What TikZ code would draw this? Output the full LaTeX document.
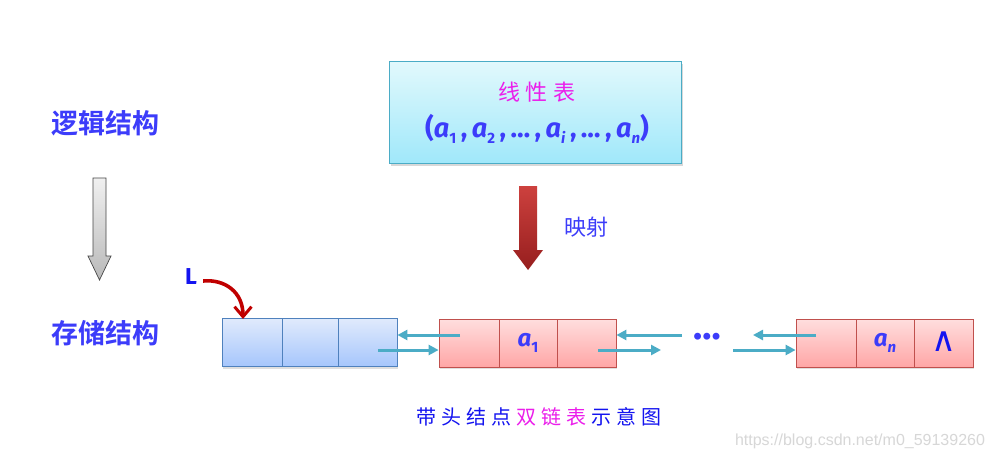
\documentclass[tikz,border=0pt]{standalone}
\usepackage{fontspec}
\setmainfont{Fira Sans}
\newfontfamily\cjk{Noto Sans CJK SC}[BoldFont={Noto Sans CJK SC Bold}]
\newfontfamily\wmfont{Liberation Sans}
\newfontfamily\dejavu{DejaVu Sans}
\usetikzlibrary{arrows.meta,shadows,calc}
\definecolor{txtblue}{RGB}{60,60,250}
\definecolor{pureblue}{RGB}{20,20,240}
\definecolor{mag}{RGB}{235,30,235}
\definecolor{cyanline}{RGB}{75,172,198}
\definecolor{boxedge}{RGB}{75,172,198}
\definecolor{bluecell}{RGB}{79,129,189}
\definecolor{redcell}{RGB}{192,80,77}
\definecolor{darkred}{RGB}{192,0,0}
\newcommand\av[2]{\textit{a}\raisebox{-0.45ex}{\fontsize{15}{15}\selectfont #1}}
\tikzset{
  lbl/.style={inner sep=0pt, text=txtblue},
  cellb/.style={draw=bluecell, line width=0.8pt, top color={rgb,255:red,224;green,234;blue,252}, bottom color={rgb,255:red,166;green,198;blue,252}, minimum height=48pt, inner sep=0pt, drop shadow={opacity=0.25,shadow xshift=1pt,shadow yshift=-2pt}},
  cellr/.style={draw=redcell, line width=0.8pt, top color={rgb,255:red,255;green,222;blue,222}, bottom color={rgb,255:red,255;green,166;blue,166}, minimum height=48pt, inner sep=0pt, drop shadow={opacity=0.25,shadow xshift=1pt,shadow yshift=-2pt}},
  link/.style={draw=cyanline, line width=3pt, -{Triangle[length=10pt,width=10pt]}},
}
\begin{document}
\begin{tikzpicture}[x=1pt,y=-1pt]
\useasboundingbox[fill=white] (0,0) rectangle (992,460);

% left labels
\node[lbl, font=\cjk\bfseries\fontsize{27}{27}\selectfont] (logic) at (105,123) {逻辑结构};
\node[lbl, font=\cjk\bfseries\fontsize{27}{27}\selectfont] (store) at (105,333) {存储结构};
\shade[top color={rgb,255:red,240;green,240;blue,240}, bottom color={rgb,255:red,185;green,185;blue,185}, draw={rgb,255:red,70;green,70;blue,70}, line width=0.7pt]
  (93,178) -- (106,178) -- (106,256) -- (111,256) -- (99.5,280) -- (88,256) -- (93,256) -- cycle;

% linear list box
\node[draw=boxedge, line width=0.8pt, top color={rgb,255:red,226;green,249;blue,252}, bottom color={rgb,255:red,160;green,232;blue,250}, minimum width=292pt, minimum height=102pt, drop shadow={opacity=0.3,shadow xshift=1.5pt,shadow yshift=-2.5pt}] (lin) at (535,112) {};
\node[inner sep=0pt, text=mag, font=\cjk\fontsize{22}{22}\selectfont] (title) at (537,92) {线\hspace{6pt}性\hspace{6pt}表};
\node[inner sep=0pt, text=txtblue, font=\bfseries\fontsize{27}{27}\selectfont] (seq) at (537,129) {(\av1{}\,,\,\av2{}\,,\,…\,,\,\av{\textit{i}}{}\,,\,…\,,\,\av{\textit{n}}{})};

% mapping arrow
\shade[top color={rgb,255:red,205;green,65;blue,62}, bottom color={rgb,255:red,150;green,30;blue,30}]
  (519,186) -- (537,186) -- (537,250) -- (543,250) -- (528,270) -- (513,250) -- (519,250) -- cycle;
\node[lbl, font=\cjk\fontsize{22}{22}\selectfont] (map) at (586,227) {映射};

% head node
\node[cellb, minimum width=60pt] (h1) at (252,342.5) {};
\node[cellb, minimum width=56pt] (h2) at (310,342.5) {};
\node[cellb, minimum width=59pt] (h3) at (367.5,342.5) {};
\node[inner sep=0pt, text=pureblue, font=\bfseries\fontsize{23}{23}\selectfont] (L) at (191,277) {L};
\coordinate (Lend) at (243,319);
\draw[darkred, line width=3.6pt, -{Straight Barb[length=10pt,width=17pt,line width=3pt]}] ($(L.east)+(6,4)$) .. controls (225,279) and (243,292) .. (Lend);

% node a1
\node[cellr, minimum width=60pt] (a1) at (469,343) {};
\node[cellr, minimum width=58pt] (a2) at (528,343) {};
\node[cellr, minimum width=59pt] (a3) at (586.5,343) {};
\node[inner sep=0pt, text=txtblue, font=\bfseries\fontsize{24}{24}\selectfont] at (a2) {\av1{}};

% dots
\node[inner sep=0pt, text=txtblue, font=\bfseries\fontsize{38}{38}\selectfont] (dots) at (707,337) {…};

% node an
\node[cellr, minimum width=60pt] (n1) at (826,343) {};
\node[cellr, minimum width=58pt] (n2) at (885,343) {};
\node[cellr, minimum width=59pt] (n3) at (943.5,343) {};
\node[inner sep=0pt, text=txtblue, font=\bfseries\fontsize{24}{24}\selectfont] at (n2) {\av{\textit{n}}{}};
\node[inner sep=0pt, text=pureblue, font=\dejavu\fontsize{34}{34}\selectfont] (nil) at (944,342) {∧};

% links
\coordinate (p1) at (460,335);
\coordinate (p2) at (378,350);
\coordinate (p3) at (682,335);
\coordinate (p4) at (598,350);
\coordinate (q3) at (661,350);
\coordinate (p5) at (816,335);
\coordinate (q5) at (753,335);
\coordinate (p6) at (733,350);
\draw[link] (p1) -- (h3.east |- p1);
\draw[link] (p2) -- (a1.west |- p2);
\draw[link] (p3) -- (a3.east |- p3);
\draw[link] (p4) -- (q3);
\draw[link] (p5) -- (q5);
\draw[link] (p6) -- (n1.west |- p6);

% caption
\node[inner sep=0pt, font=\cjk\fontsize{20}{20}\selectfont] (cap) at (539,417) {\color{pureblue}带\hspace{5pt}头\hspace{5pt}结\hspace{5pt}点\hspace{5pt}\color{mag}双\hspace{5pt}链\hspace{5pt}表\hspace{5pt}\color{pureblue}示\hspace{5pt}意\hspace{5pt}图};

% watermark
\node[inner sep=0pt, text={rgb,255:red,215;green,215;blue,215}, font=\wmfont\fontsize{16}{16}\selectfont] (wm) at (860,441) {https://blog.csdn.net/m0\_59139260};
\end{tikzpicture}
\end{document}
